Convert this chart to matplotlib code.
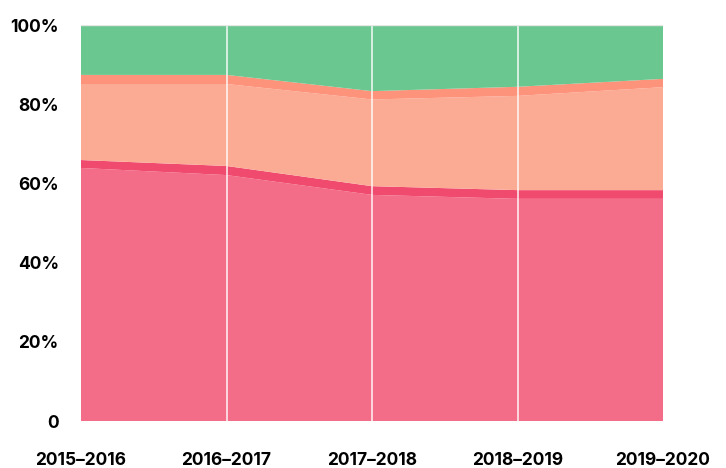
import matplotlib
matplotlib.use("Agg")
import matplotlib.pyplot as plt
import numpy as np

categories = ["2015–2016", "2016–2017", "2017–2018", "2018–2019", "2019–2020"]
pink = [63.9, 62.1, 57.1, 56.1, 56.1]
red = [2.0, 2.3, 2.2, 2.2, 2.2]
salmon = [19.2, 20.7, 21.9, 23.8, 26.0]
orange = [2.3, 2.3, 2.1, 2.3, 2.1]
green = [12.6, 12.6, 16.7, 15.6, 13.6]
yticks = [0, 20, 40, 60, 80, 100]
ytick_labels = ["0", "20%", "40%", "60%", "80%", "100%"]

colors = ["#F36D88", "#F04A6E", "#FBAA94", "#FD937A", "#69C78F"]

plt.rcParams['font.family'] = ['Inter', 'DejaVu Sans']
fig = plt.figure(figsize=(7.26, 4.68), dpi=100)
ax = fig.add_axes([81/726, 1 - 421/468, (663-81)/726, (421-25)/468])

x = np.arange(len(categories))
ax.stackplot(x, pink, red, salmon, orange, green, colors=colors, linewidth=0)
for xi in x[1:-1]:
    ax.axvline(xi, color="white", lw=1.2, alpha=0.85)
ax.axhline(100, color="#e6e6e6", lw=1)

ax.set_xlim(0, len(categories) - 1)
ax.set_ylim(0, 100)
ax.set_xticks(x)
ax.set_xticklabels(categories, fontsize=12.5, fontweight="bold")
ax.set_yticks(yticks)
ax.set_yticklabels(ytick_labels, fontsize=12.5, fontweight="bold")
ax.tick_params(axis="x", length=0, pad=22)
ax.tick_params(axis="y", length=0, pad=16)
for s in ax.spines.values():
    s.set_visible(False)

fig.savefig("out.png", dpi=100)
